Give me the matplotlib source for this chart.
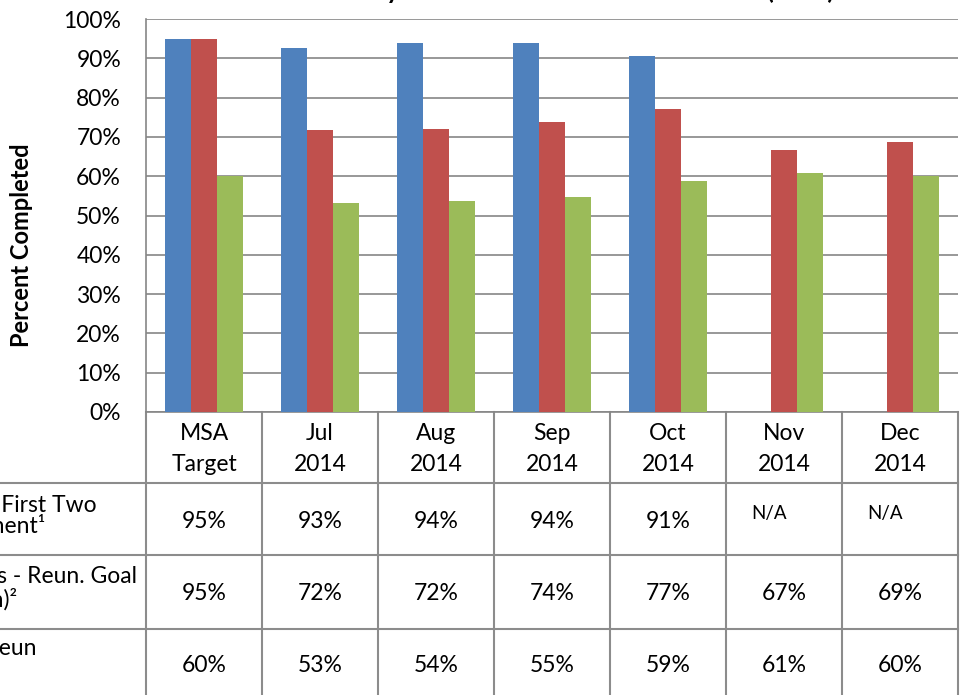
import numpy as np
import matplotlib
matplotlib.use("Agg")
import matplotlib.pyplot as plt
from matplotlib.transforms import blended_transform_factory

plt.rcParams['font.family'] = ['Lato', 'DejaVu Sans']

# ---------------- data ----------------
categories = ["MSA\nTarget", "Jul\n2014", "Aug\n2014", "Sep\n2014", "Oct\n2014", "Nov\n2014", "Dec\n2014"]
first_two_months = [95.0, 92.6, 93.9, 94.0, 90.6, np.nan, np.nan]
reun_goal = [95.0, 71.7, 72.1, 73.7, 77.0, 66.6, 68.7]
non_reun = [60.0, 53.3, 53.6, 54.6, 58.9, 60.9, 60.1]
table_row1 = ["95%", "93%", "94%", "94%", "91%", "N/A", "N/A"]
table_row2 = ["95%", "72%", "72%", "74%", "77%", "67%", "69%"]
table_row3 = ["60%", "53%", "54%", "55%", "59%", "61%", "60%"]
yticks = [0, 10, 20, 30, 40, 50, 60, 70, 80, 90, 100]
ytick_labels = ["0%", "10%", "20%", "30%", "40%", "50%", "60%", "70%", "80%", "90%", "100%"]
row_label_lines = [
    [("Visits in First Two", 97, 512), ("Months of Placement\u00b9", 45, 533)],
    [("Parent Visits - Reun. Goal", 137, 583), ("(Twice a Month)\u00b2", 17, 607)],
    [("Sibling Visits - Non-Reun", 37, 655)],
]
title_parts = ["Percent of Monthly", "Worker Visits Achieved", "(MSA)"]

colors = ["#4F81BD", "#C0504D", "#9BBB59"]
grid_col = "#868686"
tbl_col = "#8C8C8C"
FS = 16.5

W, H = 961, 695
fig = plt.figure(figsize=(W / 100, H / 100), dpi=100)
fig.patch.set_facecolor("white")

# full-figure pixel axes for table / labels
tax = fig.add_axes([0, 0, 1, 1])
tax.set_xlim(0, W)
tax.set_ylim(H, 0)
tax.axis("off")

ax = fig.add_axes([146 / W, 1 - 412 / H, (958 - 146) / W, (412 - 19) / H])
ax.set_zorder(2)
ax.patch.set_alpha(0)

x = np.arange(len(categories))
bw = 0.2216
for i, (vals, c) in enumerate(zip([first_two_months, reun_goal, non_reun], colors)):
    v = np.array(vals, dtype=float)
    m = ~np.isnan(v)
    ax.bar(x[m] + (i - 1) * bw, v[m], width=bw, color=c, zorder=3, linewidth=0)

ax.set_xlim(-0.5, len(categories) - 0.5)
ax.set_ylim(0, 100)
ax.set_yticks(yticks)
ax.set_yticklabels(ytick_labels, fontsize=FS)
ax.set_xticks([])
ax.tick_params(axis="y", length=0, pad=18)
ax.yaxis.grid(True, color=grid_col, linewidth=1.2, zorder=0)
ax.set_axisbelow(True)
for s in ["top", "right"]:
    ax.spines[s].set_visible(False)
for s in ["left", "bottom"]:
    ax.spines[s].set_color(grid_col)
    ax.spines[s].set_linewidth(1.2)

fig.text(22 / W, 1 - 245 / H, "Percent Completed", rotation=90, ha="center", va="center",
         fontsize=17, fontweight="bold")

# ---------------- table ----------------
bt = blended_transform_factory(ax.transData, tax.transData)
n = len(categories)
for k in range(n + 1):
    tax.plot([k - 0.5, k - 0.5], [412, H + 5], transform=bt, color=tbl_col, lw=1.5, clip_on=False)
for yy in [483, 555, 629]:
    tax.plot([0, 958], [yy, yy], color=tbl_col, lw=1.5, clip_on=False)

for k, lab in enumerate(categories):
    l1, l2 = lab.split("\n")
    tax.text(k, 440, l1, transform=bt, ha="center", va="baseline", fontsize=FS)
    tax.text(k, 471, l2, transform=bt, ha="center", va="baseline", fontsize=FS)

for row, base in zip([table_row1, table_row2, table_row3], [528, 600, 672]):
    for k, s in enumerate(row):
        if s == "N/A":
            tax.text(k - 0.5 + 0.22, 519, s, transform=bt, ha="left", va="baseline", fontsize=13.5)
        else:
            tax.text(k, base, s, transform=bt, ha="center", va="baseline", fontsize=FS)

for lines in row_label_lines:
    for txt, xr, yb in lines:
        tax.text(xr, yb, txt, ha="right", va="baseline", fontsize=FS, clip_on=False)

# title (mostly above the visible area)
tax.text(400, -1, title_parts[0], ha="right", va="baseline", fontsize=18, fontweight="bold", clip_on=False)
tax.text(585, -1, title_parts[1], ha="center", va="baseline", fontsize=18, fontweight="bold", clip_on=False)
tax.text(766, -1, title_parts[2], ha="left", va="baseline", fontsize=18, fontweight="bold", clip_on=False)

fig.savefig("out.png", dpi=100, facecolor="white")
